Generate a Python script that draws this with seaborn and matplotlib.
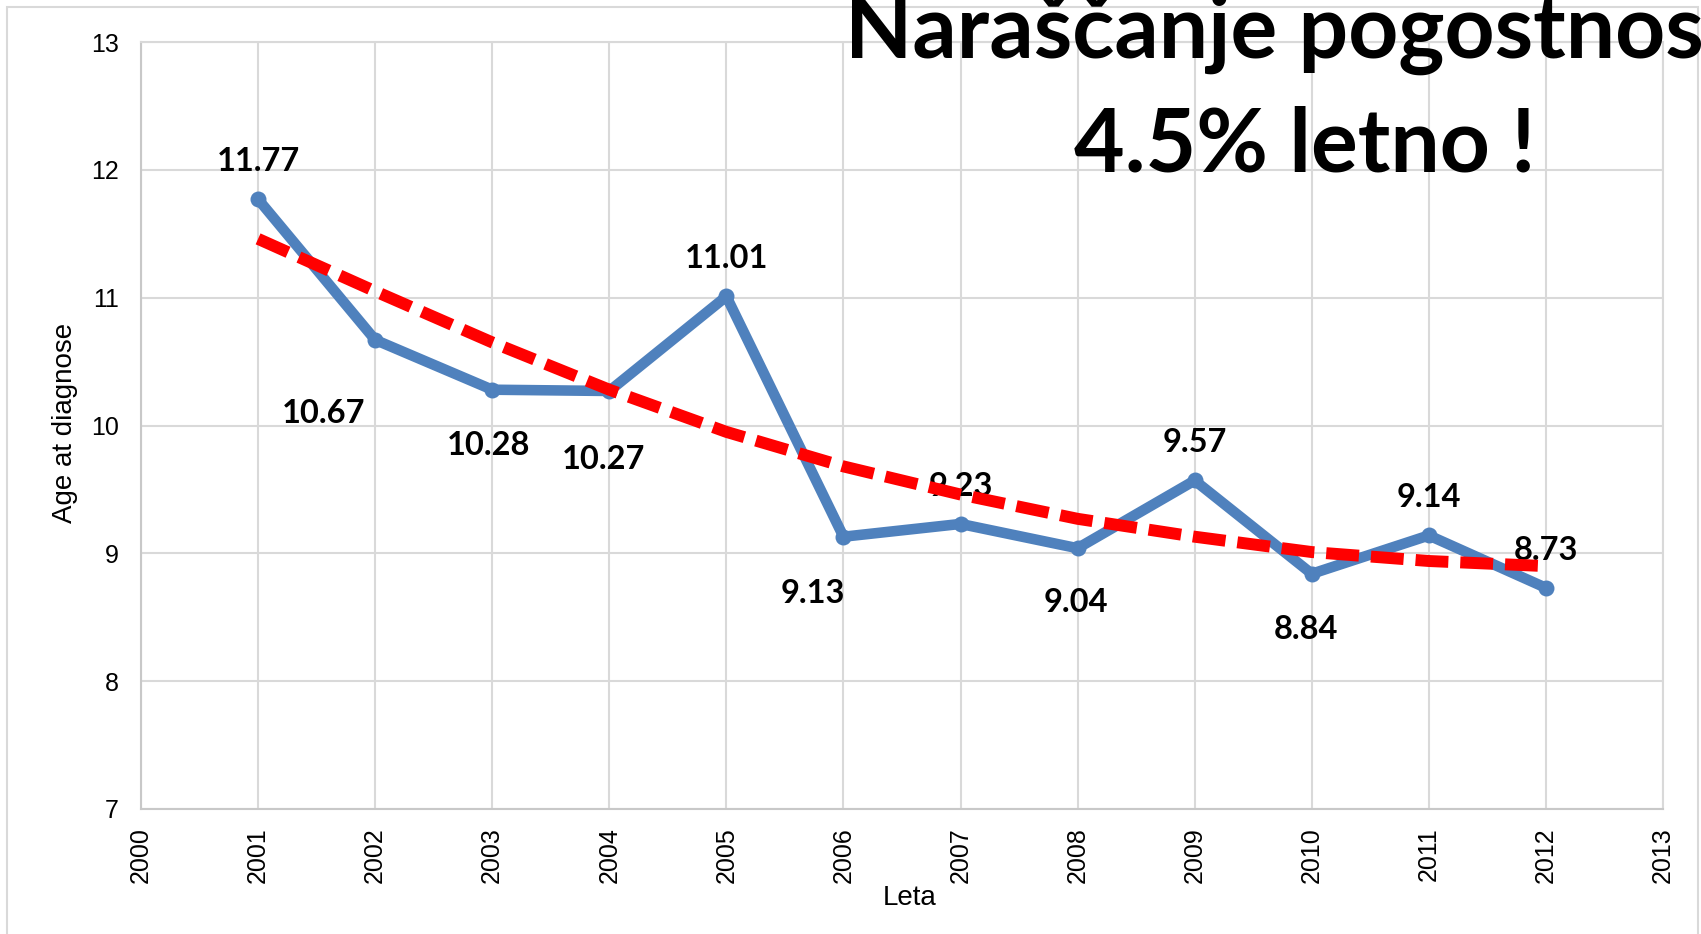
import matplotlib
matplotlib.use("Agg")
import matplotlib.pyplot as plt
import seaborn as sns
import pandas as pd
from matplotlib.patches import Rectangle

# ---- data ----
years = [2001, 2002, 2003, 2004, 2005, 2006, 2007, 2008, 2009, 2010, 2011, 2012]
age_at_diagnose = [11.77, 10.67, 10.28, 10.27, 11.01, 9.13, 9.23, 9.04, 9.57, 8.84, 9.14, 8.73]
trend_values = [11.46, 11.05, 10.65, 10.28, 9.95, 9.68, 9.46, 9.27, 9.13, 9.01, 8.94, 8.90]
x_ticks = list(range(2000, 2014))
y_ticks = [7, 8, 9, 10, 11, 12, 13]
title_line1 = "Naraščanje pogostnosti"
title_line2 = "4.5% letno !"
x_label = "Leta"
y_label = "Age at diagnose"

# label offsets (points) relative to each data point
label_offsets = [(0, 27), (-37, -53), (-3, -40), (-4, -49), (0, 27), (-22, -41),
                 (0, 27), (-1, -39), (0, 27), (-4, -40), (0, 27), (0, 27)]

df = pd.DataFrame({"year": years, "age": age_at_diagnose, "trend": trend_values})

sns.set_theme(style="white")
plt.rcParams["font.family"] = ["Liberation Sans", "DejaVu Sans"]

W, H = 1701, 934
fig = plt.figure(figsize=(W / 100, H / 100), dpi=100)
fig.patch.set_facecolor("white")
ax = fig.add_axes([141 / W, 1 - 809 / H, (1663 - 141) / W, (809 - 42) / H])

grid_c = "#D9D9D9"
ax.set_xlim(2000, 2013)
ax.set_ylim(7, 13)
ax.set_xticks(x_ticks)
ax.set_yticks(y_ticks)
ax.set_xticklabels([str(t) for t in x_ticks], rotation=90)
ax.grid(True, color=grid_c, linewidth=1.5, zorder=0)
ax.set_axisbelow(True)
for s in ax.spines.values():
    s.set_color(grid_c)
    s.set_linewidth(1.5)
ax.spines["left"].set_color("#C8C8C8")
ax.spines["bottom"].set_color("#C8C8C8")
ax.tick_params(axis="both", length=0, labelsize=18, colors="black")
ax.tick_params(axis="y", pad=16)
ax.tick_params(axis="x", pad=13)

sns.lineplot(data=df, x="year", y="age", ax=ax, color="#4F81BD", linewidth=7.6,
             marker="o", markersize=11.5, markeredgewidth=0, zorder=2)
sns.lineplot(data=df, x="year", y="trend", ax=ax, color="#FF0000", linewidth=8.6, zorder=4)
trend_line = ax.lines[-1]
trend_line.set_dashes((2.75, 1.0))
trend_line.set_dash_capstyle("butt")

for xv, yv, (dx, dy) in zip(years, age_at_diagnose, label_offsets):
    ax.annotate(f"{yv:.2f}", xy=(xv, yv), xytext=(dx, dy), textcoords="offset points",
                ha="center", va="center", fontsize=23.5, fontweight="bold",
                family=["Lato", "DejaVu Sans"], color="black", zorder=3)

ax.set_xlabel(x_label, fontsize=20, color="black")
ax.set_ylabel(y_label, fontsize=20, color="black")
ax.xaxis.set_label_coords(0.505, -0.099)
ax.yaxis.set_label_coords(-0.0414, 0.503)

# outer chart border
fig.patches.append(Rectangle((7 / W, -0.02), (1698 - 7) / W, 1.02 - 7 / H,
                             transform=fig.transFigure, fill=False,
                             edgecolor=grid_c, linewidth=1.5, zorder=0))

fig.text(845 / W, 1 - 58 / H, title_line1, ha="left", va="baseline", fontsize=63,
         fontweight="bold", family=["Lato", "DejaVu Sans"], color="black")
fig.text(1305 / W, 1 - 171 / H, title_line2, ha="center", va="baseline", fontsize=63,
         fontweight="bold", family=["Lato", "DejaVu Sans"], color="black")

fig.savefig("out.png", dpi=100, facecolor="white")
